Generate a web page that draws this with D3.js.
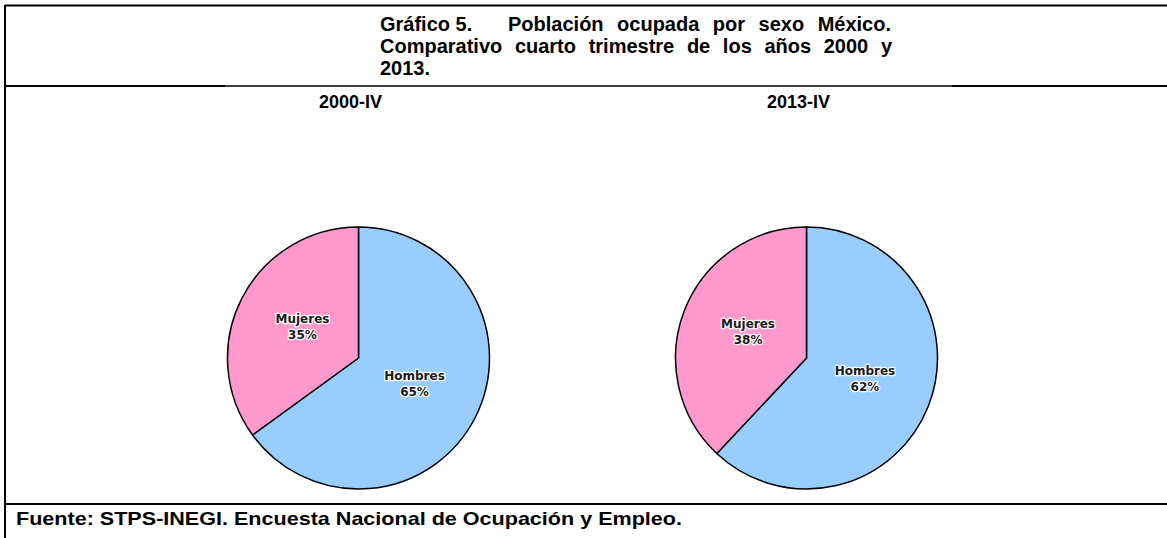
<!DOCTYPE html>
<html>
<head>
<meta charset="utf-8">
<script src="https://cdn.jsdelivr.net/npm/d3@7"></script>
<style>
  body { margin: 0; background: #fff; }
  .title, .sub, .foot { font-family: "Liberation Sans", Arial, sans-serif; font-weight: bold; fill: #000; }
  .lbl { font-family: "DejaVu Sans", Verdana, sans-serif; font-weight: bold; font-size: 12px; fill: #1a1a1a;
         stroke: #fff; stroke-width: 2.5px; paint-order: stroke; stroke-linejoin: round; text-anchor: middle; }
</style>
</head>
<body>
<svg id="chart"></svg>
<script>
// data
const years = ["2000-IV", "2013-IV"];
const categories = ["Hombres", "Mujeres"];
const hombres = [65, 62];
const mujeres = [35, 38];
const colors = ["#99ccff", "#ff99cc"];

const W = 1167, H = 538;
const svg = d3.select("#chart").attr("width", W).attr("height", H);
svg.append("rect").attr("width", W).attr("height", H).attr("fill", "#fff");

// frame of the table
const frame = svg.append("g").attr("stroke", "#000");
frame.append("line").attr("x1", 5).attr("x2", W).attr("y1", 5.5).attr("y2", 5.5).attr("stroke-width", 2);
frame.append("line").attr("x1", 5).attr("x2", 5).attr("y1", 5).attr("y2", H).attr("stroke-width", 2);
frame.append("line").attr("x1", 5).attr("x2", W).attr("y1", 86).attr("y2", 86).attr("stroke-width", 1.3);
frame.append("line").attr("x1", 5).attr("x2", 225).attr("y1", 86).attr("y2", 86).attr("stroke-width", 2);
frame.append("line").attr("x1", 952).attr("x2", W).attr("y1", 86).attr("y2", 86).attr("stroke-width", 2);
frame.append("line").attr("x1", 5).attr("x2", W).attr("y1", 504).attr("y2", 504).attr("stroke-width", 2);

// title, justified like the word processor did
const title = svg.append("g").attr("class", "title").style("font-size", "20px");

function justify(words, x0, x1, y) {
    const t = title.selectAll(null).data(words).enter().append("text")
        .attr("y", y).text(d => d);
    const widths = t.nodes().map(n => n.getComputedTextLength());
    const gap = words.length > 1 ? (x1 - x0 - d3.sum(widths)) / (words.length - 1) : 0;
    let x = x0;
    t.attr("x", (d, i) => { const xx = x; x += widths[i] + gap; return xx; });
}
title.append("text").attr("x", 380).attr("y", 31).text("Gráfico 5.");
justify("Población ocupada por sexo México.".split(" "), 508, 891, 31);
justify("Comparativo cuarto trimestre de los años 2000 y".split(" "), 380, 892, 53);
title.append("text").attr("x", 380).attr("y", 75).text("2013.");

// pies
const x = d3.scalePoint().domain(years).range([358.5, 806.5]);
const cy = 358, radius = 131;

const pie = d3.pie().sort(null).value(d => d.value);
const arc = d3.arc().innerRadius(0).outerRadius(radius);
const labelArc = d3.arc().innerRadius(radius * 0.48).outerRadius(radius * 0.48);

years.forEach((yr, i) => {
    const data = [
        { key: categories[0], value: hombres[i], color: colors[0] },
        { key: categories[1], value: mujeres[i], color: colors[1] }
    ];
    const g = svg.append("g").attr("transform", `translate(${x(yr)},${cy})`);

    svg.append("text").attr("class", "sub")
        .attr("x", x(yr) - 8).attr("y", 108)
        .attr("text-anchor", "middle")
        .style("font-size", "18px")
        .text(yr);

    const arcs = pie(data);
    g.selectAll("path").data(arcs).enter().append("path")
        .attr("d", arc)
        .attr("fill", d => d.data.color)
        .attr("stroke", "#000")
        .attr("stroke-width", 1.5)
        .attr("stroke-linejoin", "round");

    const lbl = g.selectAll("text").data(arcs).enter().append("text")
        .attr("class", "lbl")
        .attr("transform", d => `translate(${labelArc.centroid(d)})`);
    lbl.append("tspan").attr("x", 0).attr("dy", "-0.55em").text(d => d.data.key);
    lbl.append("tspan").attr("x", 0).attr("dy", "1.33em").text(d => d.data.value + "%");
});

// footer
svg.append("text").attr("class", "foot")
    .attr("x", 16).attr("y", 525)
    .style("font-size", "19px")
    .attr("textLength", 666)
    .attr("lengthAdjust", "spacingAndGlyphs")
    .text("Fuente: STPS-INEGI. Encuesta Nacional de Ocupación y Empleo.");
</script>
</body>
</html>
